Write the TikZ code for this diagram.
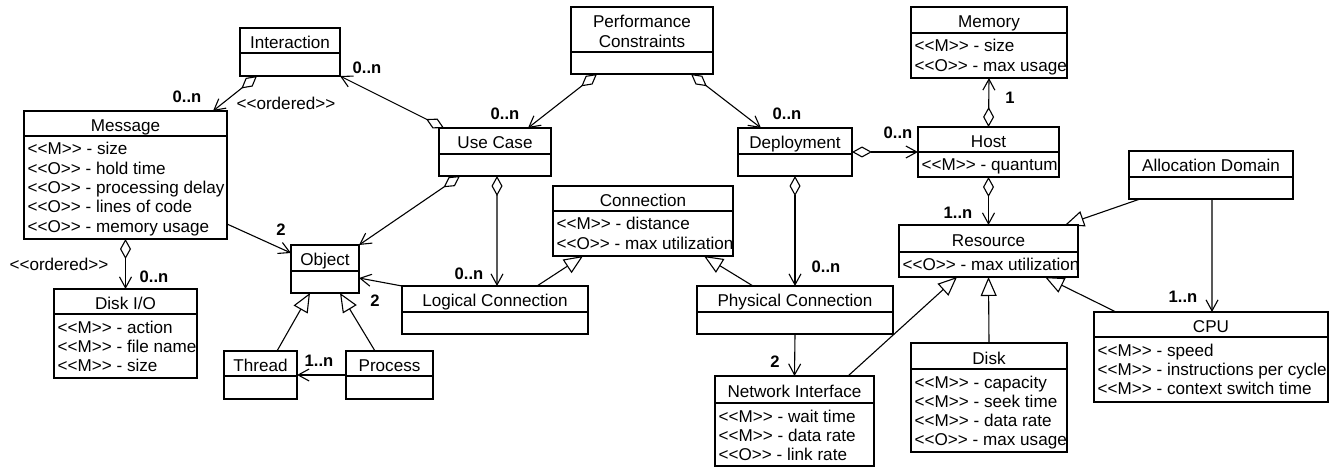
\documentclass[tikz,border=0pt]{standalone}
\usepackage{fontspec}
\newfontfamily\umlfont{Liberation Sans}
\usetikzlibrary{arrows.meta,fit}

\tikzset{
  lw/.style={line width=1.1bp},
  classbox/.style={draw, lw, inner sep=0pt, outer sep=0pt},
  title/.style={inner sep=0pt, text height=12bp, text depth=0pt, anchor=center},
  attr/.style={inner sep=0pt, text height=12bp, text depth=0pt, anchor=west},
  mult/.style={inner sep=0pt, text height=12bp, text depth=0pt, anchor=center,
    font=\umlfont\bfseries\fontsize{16.6bp}{19bp}\selectfont},
  note/.style={inner sep=0pt, text height=12bp, text depth=0pt, anchor=center},
  opentip/.tip={Straight Barb[length=11bp,width=12bp]},
  hollowdiamond/.tip={Diamond[open,length=20bp,width=11bp]},
  hollowtri/.tip={Triangle[open,length=19bp,width=16bp]},
  assoc/.style={lw, line join=miter, -opentip},
  aggr/.style={lw, line join=miter, hollowdiamond-opentip},
  gen/.style={lw, line join=miter, -hollowtri},
}

% class box: name, x1, y1, x2, y2, divider y, title, attribute list
\newcommand\umlclass[8]{%
  \node[classbox, fit={(#2,#3)(#4,#5)}] (#1) {};
  \draw[lw] (#1.west |- 0,#6) -- (#1.east |- 0,#6);
  \node[title] (#1-t) at ({(#2+#4)/2},{(#3+#6)/2+2}) {#7};
  \if\relax\detokenize{#8}\relax\else
    \foreach \a [count=\i] in {#8}
      \node[attr] (#1-a\i) at ({#2+3.5},{#6+13+(\i-1)*19.3}) {\a};
  \fi
}

\begin{document}
\begin{tikzpicture}[x=1bp, y=-1bp, font=\umlfont\fontsize{17.1bp}{19.3bp}\selectfont]
\useasboundingbox (0,0) rectangle (1331,467);

% ---- classes ----
\umlclass{interaction}{240}{28}{340}{76}{53}{Interaction}{}
\umlclass{message}{24}{111}{227}{239}{136}{Message}%
  {{<<M>> - size},{<<O>> - hold time},{<<O>> - processing delay},{<<O>> - lines of code},{<<O>> - memory usage}}
\umlclass{perf}{571}{7}{713}{74}{52}{}{}
\node[title] (perf-t1) at (642,22) {Performance};
\node[title] (perf-t2) at (642,42) {Constraints};
\umlclass{usecase}{439}{128}{551}{176}{154}{Use Case}{}
\umlclass{deploy}{738}{128}{852}{176}{154}{Deployment}{}
\umlclass{memory}{911}{7}{1067}{78}{33}{Memory}{{<<M>> - size},{<<O>> - max usage}}
\umlclass{host}{918}{127}{1059}{177}{152}{Host}{{<<M>> - quantum}}
\umlclass{alloc}{1129}{151}{1293}{199}{177}{Allocation Domain}{}
\umlclass{connection}{553}{186}{733}{256}{211}{Connection}{{<<M>> - distance},{<<O>> - max utilization}}
\umlclass{resource}{899}{225}{1078}{277}{252}{Resource}{{<<O>> - max utilization}}
\umlclass{logical}{402}{286}{588}{334}{312}{Logical Connection}{}
\umlclass{physical}{697}{286}{893}{334}{312}{Physical Connection}{}
\umlclass{object}{291}{245}{359}{293}{271}{Object}{}
\umlclass{diskio}{54}{289}{197}{378}{314}{Disk I/O}{{<<M>> - action},{<<M>> - file name},{<<M>> - size}}
\umlclass{thread}{224}{351}{297}{399}{376}{Thread}{}
\umlclass{process}{346}{351}{433}{399}{376}{Process}{}
\umlclass{netif}{715}{376}{874}{466}{403}{Network Interface}{{<<M>> - wait time},{<<M>> - data rate},{<<O>> - link rate}}
\umlclass{disk}{911}{343}{1067}{452}{369}{Disk}{{<<M>> - capacity},{<<M>> - seek time},{<<M>> - data rate},{<<O>> - max usage}}
\umlclass{cpu}{1094}{312}{1328}{402}{337}{CPU}{{<<M>> - speed},{<<M>> - instructions per cycle},{<<M>> - context switch time}}

% ---- aggregations ----
\draw[aggr] ([xshift=17bp]interaction.south west) -- ([xshift=-14bp]message.north east);
\draw[aggr] ([xshift=5bp]usecase.north west) -- (interaction.south east);
\draw[aggr] ([xshift=26bp]perf.south west) -- ([xshift=-23bp]usecase.north east);
\draw[aggr] ([xshift=-22bp]perf.south east) -- ([xshift=23bp]deploy.north west);
\draw[aggr] (deploy.east) -- (host.west);
\draw[aggr] (host.north) -- (memory.south);
\draw[aggr] (host.south) -- (resource.north);
\draw[aggr] ([xshift=21bp]usecase.south west) -- (object.north east);
\draw[aggr] ([xshift=58bp]usecase.south west) -- ([xshift=95bp]logical.north west);
\draw[aggr] (deploy.south) -- (physical.north);
\draw[aggr] (message.south) -- (diskio.north);

% ---- associations ----
\draw[assoc] (logical.north west) -- ([yshift=15bp]object.south east);
\draw[assoc] ([yshift=15bp]message.south east) -- ([yshift=-8bp]object.north west);
\draw[assoc] (process.west) -- (thread.east);
\draw[assoc] (physical.south) -- (netif.north);
\draw[assoc] ([xshift=83bp]alloc.south west) -- ([xshift=118bp]cpu.north west);

% ---- generalizations ----
\draw[gen] ([xshift=-51bp]logical.north east) -- ([xshift=30bp]connection.south west);
\draw[gen] ([xshift=56bp]physical.north west) -- ([xshift=-29bp]connection.south east);
\draw[gen] ([xshift=-20bp]thread.north east) -- ([xshift=19bp]object.south west);
\draw[gen] ([xshift=29bp]process.north west) -- ([xshift=-19bp]object.south east);
\draw[gen] ([xshift=-26bp]netif.north east) -- ([xshift=58bp]resource.south west);
\draw[gen] (disk.north) -- (resource.south);
\draw[gen] ([xshift=22bp]cpu.north west) -- ([xshift=-33bp]resource.south east);
\draw[gen] ([xshift=11bp]alloc.south west) -- ([xshift=-13bp]resource.north east);

% ---- multiplicities and constraints ----
\node[mult] (m1) at (187,97) {0..n};
\node[mult] (m2) at (367,68) {0..n};
\node[mult] (m3) at (505,114) {0..n};
\node[mult] (m4) at (787,114) {0..n};
\node[mult] (m5) at (898,133) {0..n};
\node[mult] (m6) at (1010,98) {1};
\node[mult] (m7) at (958,213) {1..n};
\node[mult] (m8) at (1183,297) {1..n};
\node[mult] (m9) at (469,274) {0..n};
\node[mult] (m10) at (826,267) {0..n};
\node[mult] (m11) at (775,361) {2};
\node[mult] (m12) at (154,277) {0..n};
\node[mult] (m13) at (281,230) {2};
\node[mult] (m14) at (375,301) {2};
\node[mult] (m15) at (319,360) {1..n};
\node[note] (ord1) at (286,104) {<<ordered>>};
\node[note] (ord2) at (59,265) {<<ordered>>};
\end{tikzpicture}
\end{document}
